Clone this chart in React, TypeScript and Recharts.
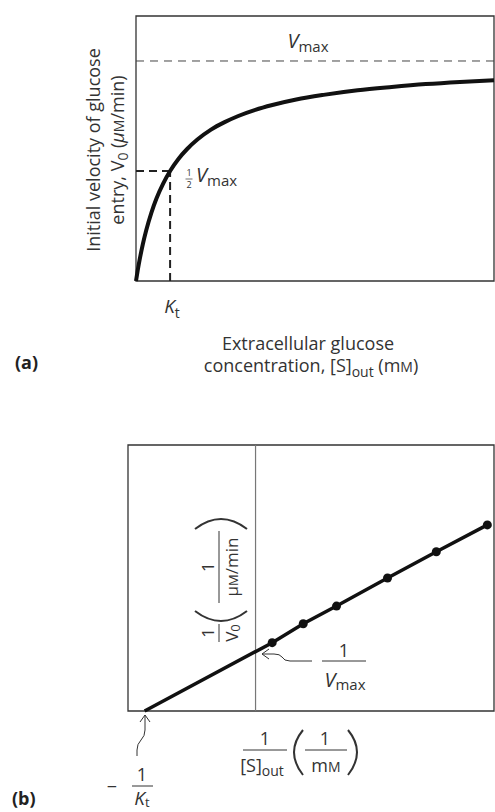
import { LineChart, ComposedChart, Line, Scatter, XAxis, YAxis, ReferenceLine, ReferenceArea } from "recharts";

// (a) Michaelis-Menten style saturation curve, Kt = 1, Vmax = 1
const substrate = [0, 0.05, 0.1, 0.2, 0.3, 0.45, 0.6, 0.8, 1, 1.25, 1.5, 1.8, 2.2, 2.6, 3, 3.5, 4, 4.7, 5.5, 6.5, 7.5, 8.5, 9.5, 10.5];
const velocity = [0, 0.048, 0.091, 0.167, 0.231, 0.31, 0.375, 0.444, 0.5, 0.556, 0.6, 0.643, 0.688, 0.722, 0.75, 0.778, 0.8, 0.825, 0.846, 0.867, 0.882, 0.895, 0.905, 0.913];
const vmax = 1;
const kt = 1;

// (b) double-reciprocal plot: x-intercept first, then the measured points
const recipS = [-1, 0.15, 0.43, 0.73, 1.19, 1.63, 2.09];
const recipV = [0, 1.12, 1.43, 1.72, 2.18, 2.61, 3.05];

const curveData = substrate.map((s, i) => ({ s, v: velocity[i] }));
const lbData = recipS.map((x, i) => ({ x, y: recipV[i] }));
const lbPoints = lbData.slice(1);

const FONT = "'Open Sans', 'Noto Sans', sans-serif";
const TXT = "#333";
const A_X: [number, number] = [0, 10.5];
const A_Y: [number, number] = [0, 1.2045];
const B_X: [number, number] = [-1.15, 2.15];
const B_Y: [number, number] = [0, 4.36];

const App = () => {
  return (
    <div style={{ position: "absolute", left: 0, top: 0, width: 495, height: 812, background: "#fff", fontFamily: FONT }}>
      <LineChart width={495} height={400} data={curveData} margin={{ top: 16, right: 1, left: 136, bottom: 119 }}>
        <XAxis type="number" dataKey="s" domain={A_X} hide />
        <YAxis type="number" domain={A_Y} hide />
        <ReferenceArea x1={A_X[0]} x2={A_X[1]} y1={A_Y[0]} y2={A_Y[1]} fill="none" stroke="#333" strokeWidth={1.3} />
        <ReferenceLine y={vmax} stroke="#444" strokeWidth={1} strokeDasharray="8 6" />
        <ReferenceLine segment={[{ x: 0, y: vmax / 2 }, { x: kt, y: vmax / 2 }]} stroke="#222" strokeWidth={2} strokeDasharray="8 5" />
        <ReferenceLine segment={[{ x: kt, y: 0 }, { x: kt, y: vmax / 2 }]} stroke="#222" strokeWidth={2} strokeDasharray="8 5" />
        <Line dataKey="v" type="monotone" stroke="#111" strokeWidth={4} dot={false} isAnimationActive={false} />

        <g fontFamily={FONT} fill={TXT}>
          <text x={308} y={48} textAnchor="middle" fontSize={20}>
            <tspan fontStyle="italic">V</tspan>
            <tspan fontSize={15} dy={4}>max</tspan>
          </text>
          <text x={189} y={176} textAnchor="middle" fontSize={9}>1</text>
          <line x1={185.5} x2={192.5} y1={179} y2={179} stroke={TXT} strokeWidth={0.7} />
          <text x={189} y={188} textAnchor="middle" fontSize={9}>2</text>
          <text x={196} y={182} fontSize={20}>
            <tspan fontStyle="italic">V</tspan>
            <tspan fontSize={15} dy={4}>max</tspan>
          </text>
          <text x={172} y={313} textAnchor="middle" fontSize={19}>
            <tspan fontStyle="italic">K</tspan>
            <tspan fontSize={14} dy={5}>t</tspan>
          </text>
          <text x={308} y={350} textAnchor="middle" fontSize={18}>Extracellular glucose</text>
          <text x={311} y={372} textAnchor="middle" fontSize={18}>
            concentration, [S]<tspan fontSize={14} dy={5}>out</tspan>
            <tspan dy={-5}> (m</tspan>
            <tspan fontSize={14}>M</tspan>
            <tspan>)</tspan>
          </text>
          <text transform="translate(100,150) rotate(-90)" textAnchor="middle" fontSize={18}>Initial velocity of glucose</text>
          <text transform="translate(124,150) rotate(-90)" textAnchor="middle" fontSize={18}>
            entry, V<tspan fontSize={14} dy={4}>0</tspan>
            <tspan dy={-4}> (</tspan>
            <tspan fontStyle="italic">μ</tspan>
            <tspan fontSize={14}>M</tspan>
            <tspan>/min)</tspan>
          </text>
          <text x={15} y={369} fontSize={18} fontWeight="bold" fill="#222">(a)</text>
        </g>
      </LineChart>

      <ComposedChart width={495} height={412} margin={{ top: 45, right: 1, left: 128, bottom: 101 }}>
        <XAxis type="number" dataKey="x" domain={B_X} hide />
        <YAxis type="number" dataKey="y" domain={B_Y} hide />
        <ReferenceArea x1={B_X[0]} x2={B_X[1]} y1={B_Y[0]} y2={B_Y[1]} fill="none" stroke="#333" strokeWidth={1.3} />
        <ReferenceLine x={0} stroke="#777" strokeWidth={1.2} />
        <Line data={lbData} dataKey="y" type="linear" stroke="#111" strokeWidth={3.5} dot={false} isAnimationActive={false} />
        <Scatter data={lbPoints} dataKey="y" fill="#111" shape={(p: any) => <circle cx={p.cx} cy={p.cy} r={4.5} fill="#111" />} isAnimationActive={false} />

        <g fontFamily={FONT} fill={TXT}>
          {/* y-axis label, rotated */}
          <g transform="translate(219,181) rotate(-90)">
            <text x={-52} y={-5} textAnchor="middle" fontSize={17}>1</text>
            <line x1={-61} x2={-43} y1={0} y2={0} stroke={TXT} strokeWidth={1} />
            <text x={-52} y={19} textAnchor="middle" fontSize={17}>
              V<tspan fontSize={13} dy={2}>0</tspan>
            </text>
            <path d="M-30,-24 Q-50,2 -30,28" fill="none" stroke={TXT} strokeWidth={2} />
            <text x={14} y={-5} textAnchor="middle" fontSize={17}>1</text>
            <line x1={-22} x2={50} y1={0} y2={0} stroke={TXT} strokeWidth={1} />
            <text x={14} y={19} textAnchor="middle" fontSize={17}>
              μ<tspan fontSize={13}>M</tspan>/min
            </text>
            <path d="M52,-24 Q72,2 52,28" fill="none" stroke={TXT} strokeWidth={2} />
          </g>

          {/* 1 / Vmax */}
          <text x={344} y={257} textAnchor="middle" fontSize={18}>1</text>
          <line x1={322} x2={366} y1={261} y2={261} stroke={TXT} strokeWidth={1} />
          <text x={345} y={287} textAnchor="middle" fontSize={20}>
            <tspan fontStyle="italic">V</tspan>
            <tspan fontSize={15} dy={3}>max</tspan>
          </text>
          <path d="M312,261 L290,261 Q284,261 282,257 Q280,254 274,254 L262,254" fill="none" stroke={TXT} strokeWidth={1} />
          <path d="M269,249 L262,254 L269,259" fill="none" stroke={TXT} strokeWidth={1} />

          {/* -1 / Kt */}
          <path d="M145,315 L145,330 Q145,336 141,340 Q137,344 137,350 L137,356" fill="none" stroke={TXT} strokeWidth={1} />
          <path d="M140,322 L145,315 L150,322" fill="none" stroke={TXT} strokeWidth={1} />
          <text x={112} y={393} textAnchor="middle" fontSize={18}>−</text>
          <text x={142} y={381} textAnchor="middle" fontSize={18}>1</text>
          <line x1={132} x2={153} y1={386} y2={386} stroke={TXT} strokeWidth={1} />
          <text x={142} y={405} textAnchor="middle" fontSize={19}>
            <tspan fontStyle="italic">K</tspan>
            <tspan fontSize={13} dy={2}>t</tspan>
          </text>

          {/* x-axis label */}
          <text x={265} y={345} textAnchor="middle" fontSize={18}>1</text>
          <line x1={243} x2={287} y1={350} y2={350} stroke={TXT} strokeWidth={1} />
          <text x={262} y={372} textAnchor="middle" fontSize={18}>
            [S]<tspan fontSize={14} dy={4}>out</tspan>
          </text>
          <path d="M303,330 Q285,352 303,375" fill="none" stroke={TXT} strokeWidth={2} />
          <text x={325} y={345} textAnchor="middle" fontSize={18}>1</text>
          <line x1={305} x2={347} y1={350} y2={350} stroke={TXT} strokeWidth={1} />
          <text x={326} y={372} textAnchor="middle" fontSize={18}>
            m<tspan fontSize={14}>M</tspan>
          </text>
          <path d="M348,330 Q366,352 348,375" fill="none" stroke={TXT} strokeWidth={2} />

          <text x={12} y={405} fontSize={18} fontWeight="bold" fill="#222">(b)</text>
        </g>
      </ComposedChart>
    </div>
  );
};

export default App;
